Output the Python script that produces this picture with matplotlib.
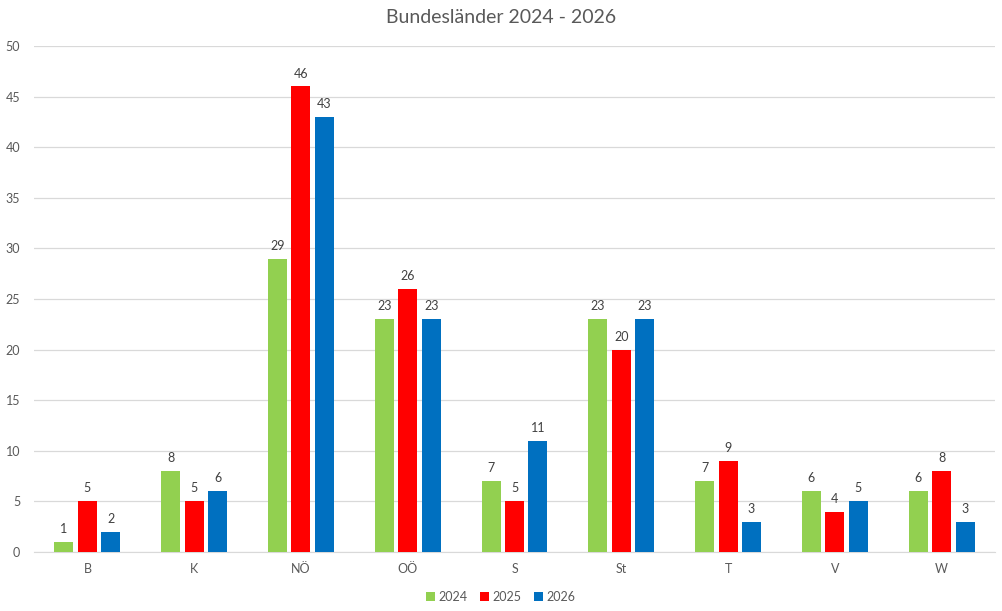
import matplotlib
matplotlib.use("Agg")
import matplotlib.pyplot as plt
import numpy as np

categories = ["B", "K", "NÖ", "OÖ", "S", "St", "T", "V", "W"]
series_names = ["2024", "2025", "2026"]
v2024 = [1, 8, 29, 23, 7, 23, 7, 6, 6]
v2025 = [5, 5, 46, 26, 5, 20, 9, 4, 8]
v2026 = [2, 6, 43, 23, 11, 23, 3, 5, 3]
colors = ["#92D050", "#FF0000", "#0070C0"]
title = "Bundesländer 2024 - 2026"

plt.rcParams['font.family'] = ['Lato', 'DejaVu Sans']
txt = "#595959"

fig = plt.figure(figsize=(10.02, 6.11), dpi=100)
ax = fig.add_axes([34/1002, 59/611, 961/1002, 506/611])

x = np.arange(len(categories))
w = 0.178
off = 0.22
for i, (vals, c, n) in enumerate(zip([v2024, v2025, v2026], colors, series_names)):
    bars = ax.bar(x + (i - 1) * off, vals, width=w, color=c, label=n, zorder=3)
    for b, v in zip(bars, vals):
        ax.annotate(str(v), (b.get_x() + b.get_width() / 2, v), xytext=(0, 5),
                    textcoords="offset points", ha="center", va="bottom",
                    fontsize=9, color="#404040")

ax.set_xlim(-0.5, len(categories) - 0.5)
ax.set_ylim(0, 50)
ax.set_yticks(range(0, 51, 5))
ax.set_xticks(x)
ax.set_xticklabels(categories)
ax.tick_params(axis='both', length=0, labelsize=9, colors=txt)
ax.tick_params(axis='y', pad=10)
ax.tick_params(axis='x', pad=8)
ax.grid(axis='y', color="#D9D9D9", linewidth=0.9, zorder=0)
for s in ["top", "right", "left"]:
    ax.spines[s].set_visible(False)
ax.spines["bottom"].set_color("#D9D9D9")

fig.suptitle(title, x=0.5, y=0.985, fontsize=14, color=txt)

handles, labels = ax.get_legend_handles_labels()
fig.legend(handles, labels, loc="center", bbox_to_anchor=(0.5, 1 - 597/611), ncol=3,
           frameon=False, fontsize=9, labelcolor=txt, handlelength=0.7, handleheight=0.7,
           handletextpad=0.3, columnspacing=1.0)

fig.savefig("out.png", dpi=100)
